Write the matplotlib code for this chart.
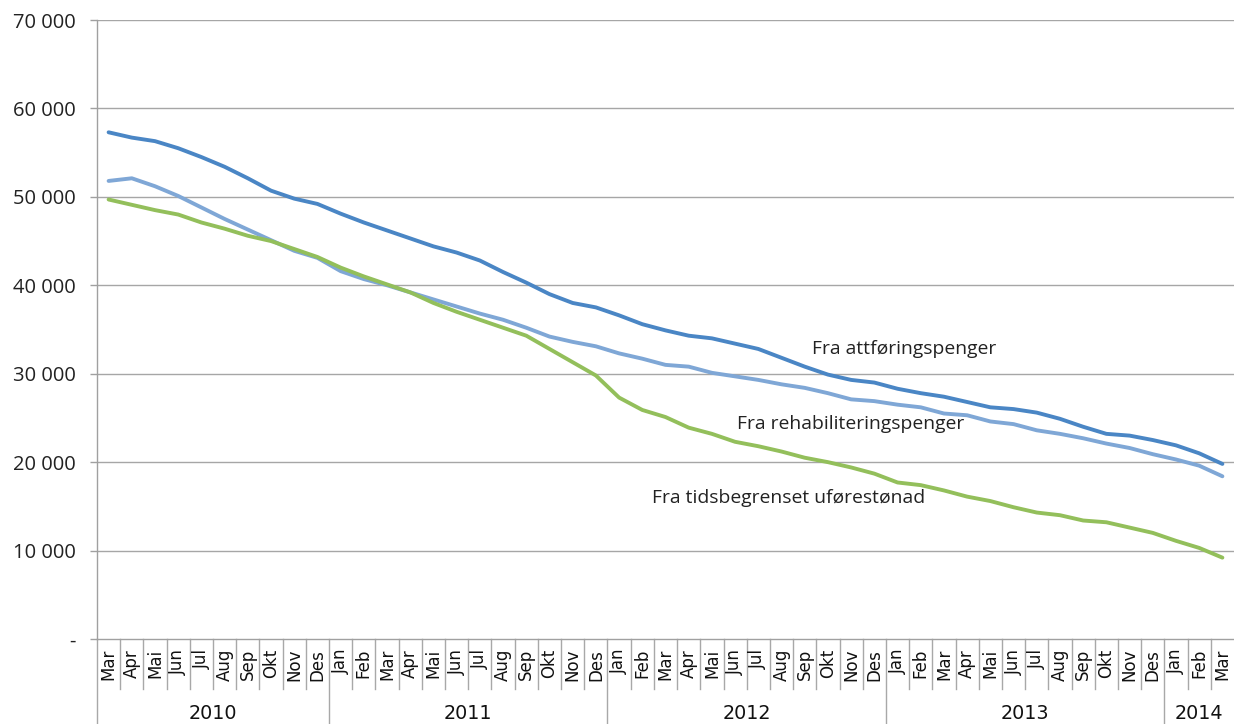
import matplotlib
matplotlib.use("Agg")
import matplotlib.pyplot as plt
import matplotlib.transforms as mtransforms
import numpy as np

months = ["Mar", "Apr", "Mai", "Jun", "Jul", "Aug", "Sep", "Okt", "Nov", "Des",
          "Jan", "Feb", "Mar", "Apr", "Mai", "Jun", "Jul", "Aug", "Sep", "Okt", "Nov", "Des",
          "Jan", "Feb", "Mar", "Apr", "Mai", "Jun", "Jul", "Aug", "Sep", "Okt", "Nov", "Des",
          "Jan", "Feb", "Mar", "Apr", "Mai", "Jun", "Jul", "Aug", "Sep", "Okt", "Nov", "Des",
          "Jan", "Feb", "Mar"]
years = ["2010", "2011", "2012", "2013", "2014"]
year_counts = [10, 12, 12, 12, 3]

attforing = [57300, 56700, 56300, 55500, 54500, 53400, 52100, 50700, 49800, 49200,
             48100, 47100, 46200, 45300, 44400, 43700, 42800, 41500, 40300, 39000, 38000, 37500,
             36600, 35600, 34900, 34300, 34000, 33400, 32800, 31800, 30800, 29900, 29300, 29000,
             28300, 27800, 27400, 26800, 26200, 26000, 25600, 24900, 24000, 23200, 23000, 22500,
             21900, 21000, 19800]
rehab = [51800, 52100, 51200, 50100, 48800, 47500, 46300, 45100, 43900, 43100,
         41600, 40700, 40000, 39200, 38400, 37600, 36800, 36100, 35200, 34200, 33600, 33100,
         32300, 31700, 31000, 30800, 30100, 29700, 29300, 28800, 28400, 27800, 27100, 26900,
         26500, 26200, 25500, 25300, 24600, 24300, 23600, 23200, 22700, 22100, 21600, 20900,
         20300, 19600, 18400]
tidsbegr = [49700, 49100, 48500, 48000, 47100, 46400, 45600, 45000, 44100, 43200,
            42000, 41000, 40100, 39200, 38000, 37000, 36100, 35200, 34300, 32800, 31300, 29800,
            27300, 25900, 25100, 23900, 23200, 22300, 21800, 21200, 20500, 20000, 19400, 18700,
            17700, 17400, 16800, 16100, 15600, 14900, 14300, 14000, 13400, 13200, 12600, 12000,
            11100, 10300, 9200]
series_labels = ["Fra attføringspenger", "Fra rehabiliteringspenger", "Fra tidsbegrenset uførestønad"]
label_pos = [(30.3, 32850), (27.1, 24300), (23.4, 16000)]
yticks = [0, 10000, 20000, 30000, 40000, 50000, 60000, 70000]

fig = plt.figure(figsize=(12.34, 7.24), dpi=100)
ax = fig.add_axes([97/1234, 1-639/724, 1-97/1234, (639-20)/724])

x = np.arange(len(months))
colors = ["#4A86C5", "#7FA7D6", "#93BF5B"]
for vals, c in zip([attforing, rehab, tidsbegr], colors):
    ax.plot(x, vals, color=c, lw=2.8, solid_capstyle="round", solid_joinstyle="round", zorder=3)

for (px, py), lab in zip(label_pos, series_labels):
    ax.text(px, py, lab, ha="left", va="center", fontsize=13.9, family="Open Sans", color="#222222")

ax.set_xlim(-0.5, len(months) - 0.5)
ax.set_ylim(0, 70000)
ax.set_yticks(yticks)
ax.set_yticklabels(["-" if v == 0 else f"{v:,}".replace(",", " ") for v in yticks],
                   fontsize=14.5, family="Open Sans", color="#222222")
ax.tick_params(axis="y", length=5, color="#A0A0A0", width=1, pad=10.5)
ax.set_xticks([])
for v in yticks[1:]:
    ax.axhline(v, color="#A6A6A6", lw=1, zorder=1)
for s in ["top", "right"]:
    ax.spines[s].set_visible(False)
for s in ["left", "bottom"]:
    ax.spines[s].set_color("#A0A0A0")
    ax.spines[s].set_linewidth(1)

trans = mtransforms.blended_transform_factory(ax.transData, ax.transAxes)
for i, m in enumerate(months):
    ax.text(i, -0.016, m, rotation=90, ha="center", va="top", fontsize=12,
            family="DejaVu Sans", color="#111111", transform=trans, clip_on=False)
boundaries = np.cumsum([0] + year_counts) - 0.5
for i in range(len(months)):
    b = i - 0.5
    is_year = np.any(np.isclose(boundaries, b))
    y1 = -0.17 if is_year else -0.081
    ax.plot([b, b], [0, y1], color="#A8A8A8", lw=1, transform=trans, clip_on=False)
start = 0
for yr, cnt in zip(years, year_counts):
    ax.text(start + (cnt - 1) / 2, -0.121, yr, ha="center", va="center", fontsize=13.8,
            family="DejaVu Sans", color="#111111", transform=trans, clip_on=False)
    start += cnt

fig.savefig("out.png", dpi=100)
